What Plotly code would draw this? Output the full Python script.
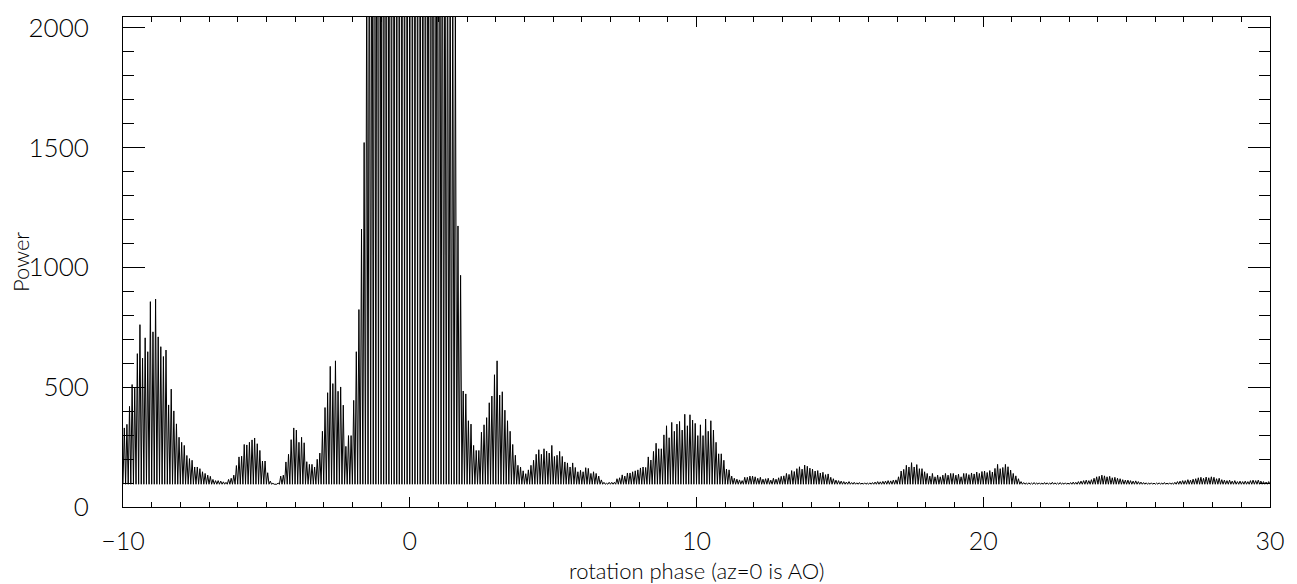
import plotly.graph_objects as go

# Sampling of the rotation-phase axis: 11 oscillation peaks per unit of phase
PHASE_START = -10.0
PEAKS_PER_UNIT = 11
BASELINE = 95  # trough level between the oscillation peaks

# Peak heights, one row of 11 per unit of rotation phase
peaks_left = [  # phase -10 .. -3
    330, 345, 420, 511, 496, 640, 761, 621, 706, 648, 857,
    731, 868, 710, 669, 628, 655, 426, 492, 401, 347, 291,
    270, 257, 215, 202, 195, 167, 167, 160, 147, 140, 133,
    128, 115, 110, 110, 108, 105, 103, 115, 120, 133, 173,
    209, 212, 261, 259, 270, 280, 288, 264, 236, 192, 192,
    143, 108, 99, 95, 100, 129, 133, 188, 220, 281, 330,
    321, 270, 291, 268, 189, 178, 178, 167, 199, 225, 316,
    415, 477, 587, 515, 610, 483, 501, 425, 253, 298, 298,
]
peaks_center = [  # phase -2 .. 2 (most of these lie above the plotted range)
    445, 648, 824, 1160, 1521, 2300, 2700, 3200, 3600, 4100, 4500,
    5000, 5500, 6000, 6400, 6800, 7200, 7500, 7800, 8000, 8200, 8300,
    8300, 8200, 8000, 7700, 7300, 6800, 6200, 5600, 5000, 4400, 3800,
    3300, 3000, 2800, 2600, 2400, 2200, 2100, 1173, 967, 484, 472,
]
peaks_mid = [  # phase 2 .. 12
    360, 346, 257, 236, 236, 312, 343, 373, 435, 463, 552,
    610, 467, 481, 404, 360, 316, 261, 216, 174, 167, 151,
    139, 155, 174, 195, 220, 239, 220, 243, 233, 225, 257,
    211, 216, 232, 211, 188, 184, 167, 184, 165, 147, 153,
    147, 164, 161, 140, 147, 140, 129, 113, 103, 99, 103,
    103, 103, 118, 122, 134, 129, 142, 142, 147, 151, 155,
    163, 167, 165, 209, 196, 232, 266, 243, 243, 301, 339,
    289, 353, 316, 346, 357, 321, 387, 339, 385, 363, 349,
    298, 343, 298, 367, 316, 360, 321, 270, 222, 222, 195,
    158, 155, 129, 120, 116, 113, 110, 124, 124, 129, 129,
]
peaks_right = [  # phase 12 .. 30
    126, 120, 124, 116, 118, 120, 112, 120, 116, 122, 128,
    130, 140, 136, 152, 148, 160, 168, 158, 175, 170, 162,
    158, 150, 152, 142, 145, 135, 138, 124, 118, 112, 110,
    108, 106, 104, 106, 102, 103, 101, 102, 100, 101, 100,
    101, 102, 104, 106, 105, 107, 108, 110, 109, 112, 113,
    126, 150, 157, 174, 167, 185, 167, 177, 160, 160, 147,
    140, 129, 140, 126, 133, 126, 133, 140, 133, 140, 140,
    133, 137, 126, 140, 140, 135, 142, 138, 146, 140, 148,
    150, 144, 152, 146, 161, 178, 160, 165, 178, 168, 154,
    140, 130, 118, 106, 102, 100, 101, 100, 102, 100, 101,
    100, 102, 101, 100, 103, 101, 100, 102, 100, 101, 100,
    102, 104, 103, 106, 108, 110, 112, 110, 114, 120, 126,
    128, 133, 130, 126, 128, 122, 124, 120, 118, 114, 112,
    112, 110, 108, 109, 106, 104, 102, 101, 100, 101, 100,
    100, 101, 100, 102, 100, 101, 100, 103, 106, 108, 110,
    110, 114, 112, 116, 118, 122, 124, 120, 125, 122, 126,
    124, 118, 120, 114, 112, 110, 112, 108, 110, 106, 108,
    106, 108, 106, 110, 112, 110, 112, 108, 106, 104, 106,
]

x_ticks = [-10, 0, 10, 20, 30]
y_ticks = [0, 500, 1000, 1500, 2000]

peaks = peaks_left + peaks_center + peaks_mid + peaks_right
step = 1.0 / PEAKS_PER_UNIT
xs, ys = [], []
for k, p in enumerate(peaks):
    xs.append(PHASE_START + k * step)
    ys.append(BASELINE)
    xs.append(PHASE_START + (k + 0.5) * step)
    ys.append(p)
xs.append(PHASE_START + len(peaks) * step)
ys.append(BASELINE)

fig = go.Figure()
fig.add_trace(go.Scatter(x=xs, y=ys, mode="lines",
                         line=dict(color="black", width=1),
                         showlegend=False, hoverinfo="skip"))

font_family = "Lato"
fig.update_layout(
    width=1289, height=576,
    margin=dict(l=115, r=27, t=3, b=77),
    paper_bgcolor="white", plot_bgcolor="white",
    font=dict(family=font_family, color="black", size=22, weight=300),
    xaxis=dict(
        range=[-10, 30], tickvals=x_ticks,
        ticks="inside", ticklen=10, tickcolor="black", tickwidth=1,
        minor=dict(dtick=1, ticks="inside", ticklen=5, tickcolor="black", tickwidth=1),
        showline=True, linecolor="black", linewidth=1, mirror="allticks",
        showgrid=False, zeroline=False,
        tickfont=dict(size=25, family=font_family, weight=300),
        ticklabelstandoff=12, ticklabeloverflow="allow",
    ),
    yaxis=dict(
        range=[0, 2045], tickvals=y_ticks,
        ticks="inside", ticklen=22, tickcolor="black", tickwidth=1,
        minor=dict(dtick=100, ticks="inside", ticklen=11, tickcolor="black", tickwidth=1),
        showline=True, linecolor="black", linewidth=1, mirror="allticks",
        showgrid=False, zeroline=False,
        tickfont=dict(size=26, family=font_family, weight=300),
        ticklabelstandoff=28, ticklabeloverflow="allow",
    ),
    annotations=[
        dict(text="Power", textangle=-90, showarrow=False,
             xref="paper", yref="paper", x=0, y=0.5,
             xanchor="center", yanchor="middle", xshift=-103,
             font=dict(size=22, family=font_family, weight=300, color="black")),
        dict(text="rotation phase (az=0 is AO)", showarrow=False,
             xref="paper", yref="paper", x=0.5, y=0,
             xanchor="center", yanchor="middle", yshift=-63,
             font=dict(size=22, family=font_family, weight=300, color="black")),
    ],
)

fig.write_html("out.html")
